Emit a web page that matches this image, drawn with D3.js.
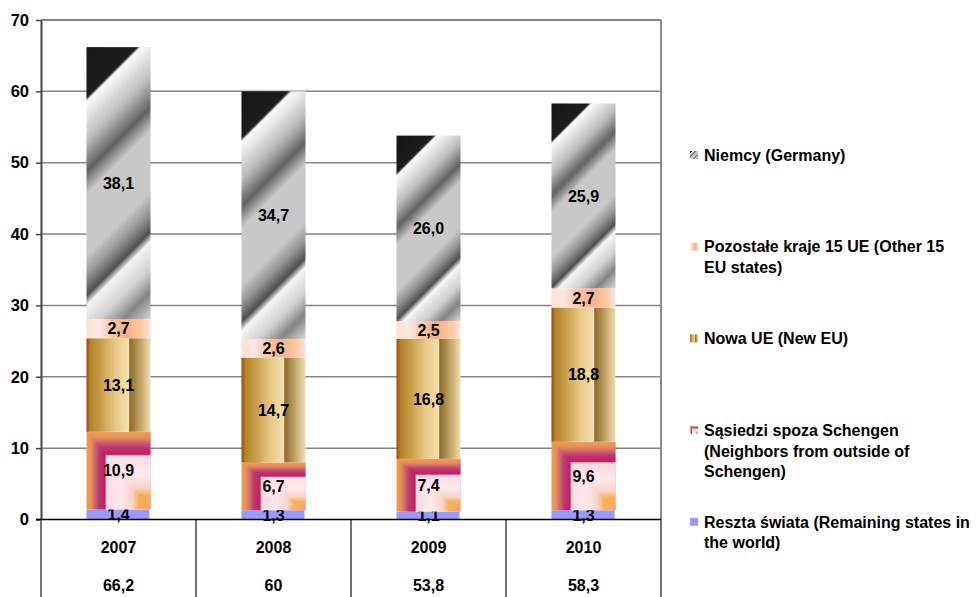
<!DOCTYPE html>
<html>
<head>
<meta charset="utf-8">
<script src="https://cdn.jsdelivr.net/npm/d3@7"></script>
<style>
    body { margin: 0; background: #fff; }
    text { font-family: "Liberation Sans", Arial, sans-serif; font-weight: bold; fill: #000; }
</style>
</head>
<body>
<div id="chart"></div>
<script>

const years = ['2007', '2008', '2009', '2010'];
const totals = ['66,2', '60', '53,8', '58,3'];

const reszta = [1.4, 1.3, 1.1, 1.3];
const sasiedzi = [10.9, 6.7, 7.4, 9.6];
const nowaUE = [13.1, 14.7, 16.8, 18.8];
const pozostale = [2.7, 2.6, 2.5, 2.7];
const niemcy = [38.1, 34.7, 26.0, 25.9];

const yTicks = [0, 10, 20, 30, 40, 50, 60, 70];

// legend goes top -> bottom, stack goes bottom -> top
const legendLines = [
    ['Niemcy (Germany)'],
    ['Pozostałe kraje 15 UE (Other 15', 'EU states)'],
    ['Nowa UE (New EU)'],
    ['Sąsiedzi spoza Schengen', '(Neighbors from outside of', 'Schengen)'],
    ['Reszta świata (Remaining states in', 'the world)']
];

const stackSeries = [
    { key: 'reszta', values: reszta },
    { key: 'sasiedzi', values: sasiedzi },
    { key: 'nowa', values: nowaUE },
    { key: 'pozostale', values: pozostale },
    { key: 'niemcy', values: niemcy }
];

const svgWidth = 976;
const svgHeight = 597;
const plot = { left: 41, right: 661, top: 20, bottom: 519.5 };

const svg = d3.select('#chart')
    .append('svg')
    .attr('width', svgWidth)
    .attr('height', svgHeight);

const defs = svg.append('defs');

const addStops = (grad, stops) => {
    grad.selectAll('stop')
        .data(stops)
        .join('stop')
        .attr('offset', d => d[0])
        .attr('stop-color', d => d[1]);
    return grad;
};

const nowaStops = [
    [0, '#9a480a'], [0.06, '#b4822c'], [0.2, '#c39a42'], [0.45, '#e8c886'],
    [0.66, '#f6e0aa'], [0.675, '#8a6a30'], [0.8, '#b69656'], [1, '#f2dfb4']
];
const pozStops = [
    [0, '#fde2cc'], [0.2, '#fde6e6'], [0.4, '#f9c6a6'], [0.62, '#f5b08e'],
    [0.85, '#fcca9a'], [1, '#fde2ea']
];
const sasStops = [
    [0, '#f0a050'], [0.08, '#e68c5a'], [0.2, '#b83878'], [0.29, '#d01858'],
    [0.31, '#fbdde4'], [0.55, '#fde8ec'], [0.72, '#f9d4c8'], [0.82, '#f8b058'],
    [0.95, '#f8a868'], [1, '#f890a0']
];
const niemcyStops = [
    [0, '#161616'], [0.15, '#1c1c1c'], [0.162, '#f8f8f8'], [0.2, '#e8e8e8'],
    [0.28, '#bcbcbc'], [0.37, '#626262'], [0.44, '#c8c8c8'], [0.62, '#c8c8c8'],
    [0.68, '#969696'], [0.74, '#505050'], [0.77, '#f5f5f5'], [0.85, '#d0d0d0'],
    [0.92, '#858585'], [1, '#d8d8d8']
];

addStops(defs.append('linearGradient').attr('id', 'g-nowa')
    .attr('x1', 0).attr('y1', 0).attr('x2', 1).attr('y2', 0), nowaStops);
addStops(defs.append('linearGradient').attr('id', 'g-poz')
    .attr('x1', 0).attr('y1', 0).attr('x2', 1).attr('y2', 0), pozStops);
addStops(defs.append('linearGradient').attr('id', 'g-sas-h')
    .attr('x1', 0).attr('y1', 0).attr('x2', 1).attr('y2', 0), sasStops);
addStops(defs.append('linearGradient').attr('id', 'g-sas-v')
    .attr('x1', 0).attr('y1', 0).attr('x2', 0).attr('y2', 1), sasStops);
addStops(defs.append('linearGradient').attr('id', 'g-niemcy-legend')
    .attr('x1', 0).attr('y1', 0).attr('x2', 1).attr('y2', 1), niemcyStops);

const xScale = d3.scaleBand()
    .domain(years)
    .range([plot.left, plot.right])
    .padding(0);

const barWidth = xScale.bandwidth() * 0.413;

const yScale = d3.scaleLinear()
    .domain([0, 70])
    .range([plot.bottom, plot.top]);

// gridlines
svg.append('g')
    .selectAll('line')
    .data(yTicks.filter(d => d > 0))
    .join('line')
    .attr('x1', plot.left)
    .attr('x2', plot.right)
    .attr('y1', d => yScale(d))
    .attr('y2', d => yScale(d))
    .attr('stroke', '#858585')
    .attr('stroke-width', 1.5);

// right border of plot
svg.append('line')
    .attr('x1', plot.right).attr('x2', plot.right)
    .attr('y1', plot.top).attr('y2', plot.bottom)
    .attr('stroke', '#8a8a8a')
    .attr('stroke-width', 2);

// stacked data
const rows = years.map((year, i) => {
    const row = { year };
    stackSeries.forEach(s => { row[s.key] = s.values[i]; });
    return row;
});

const stacked = d3.stack().keys(stackSeries.map(s => s.key))(rows);

const fmt = v => d3.format('.1f')(v).replace('.', ',');

const bars = svg.append('g');

stacked.forEach(layer => {
    const key = layer.key;
    layer.forEach((d, i) => {
        const x0 = xScale(d.data.year) + (xScale.bandwidth() - barWidth) / 2;
        const x1 = x0 + barWidth;
        const yTop = yScale(d[1]);
        const yBot = yScale(d[0]);
        const h = yBot - yTop;

        if (key === 'sasiedzi') {
            // rectangular gradient from the lower right corner: two halves
            bars.append('rect')
                .attr('x', x0).attr('y', yTop)
                .attr('width', barWidth).attr('height', h)
                .attr('fill', 'url(#g-sas-h)');
            bars.append('polygon')
                .attr('points', [[x0, yTop], [x1, yTop], [x1, yBot]].join(' '))
                .attr('fill', 'url(#g-sas-v)');
        } else if (key === 'niemcy') {
            const id = `g-niemcy-${i}`;
            const len = (barWidth + h) / 2;
            addStops(defs.append('linearGradient').attr('id', id)
                .attr('gradientUnits', 'userSpaceOnUse')
                .attr('x1', x0).attr('y1', yTop)
                .attr('x2', x0 + len).attr('y2', yTop + len), niemcyStops);
            bars.append('rect')
                .attr('x', x0).attr('y', yTop)
                .attr('width', barWidth).attr('height', h)
                .attr('fill', `url(#${id})`);
        } else {
            const fill = key === 'reszta' ? '#9999ff'
                : key === 'nowa' ? 'url(#g-nowa)' : 'url(#g-poz)';
            bars.append('rect')
                .attr('x', x0).attr('y', yTop)
                .attr('width', key === 'reszta' ? barWidth - 1 : barWidth)
                .attr('height', h)
                .attr('fill', fill);
        }

        bars.append('text')
            .attr('x', x0 + barWidth / 2)
            .attr('y', (yTop + yBot) / 2)
            .attr('dy', '0.36em')
            .attr('text-anchor', 'middle')
            .style('font-size', '16px')
            .text(fmt(d.data[key]));
    });
});

// y axis
const yAxis = svg.append('g')
    .attr('transform', `translate(${plot.left}, 0)`)
    .call(d3.axisLeft(yScale)
        .tickValues(yTicks)
        .tickSize(5)
        .tickSizeOuter(0)
        .tickPadding(7)
        .tickFormat(d => d));

yAxis.select('.domain').attr('stroke', '#444').attr('stroke-width', 2);
yAxis.selectAll('.tick line').attr('stroke', '#444').attr('stroke-width', 1.5);
yAxis.selectAll('.tick text')
    .style('font-size', '16.5px')
    .style('font-family', '"Liberation Sans", Arial, sans-serif')
    .style('font-weight', 'bold')
    .attr('fill', '#000');

// top border (70 line)
svg.append('line')
    .attr('x1', plot.left).attr('x2', plot.right)
    .attr('y1', yScale(70)).attr('y2', yScale(70))
    .attr('stroke', '#858585')
    .attr('stroke-width', 2);

// data table under the chart
const table = svg.append('g');

table.selectAll('line.v')
    .data(years.map(y => xScale(y)).concat([plot.right]))
    .join('line')
    .attr('class', 'v')
    .attr('x1', d => d).attr('x2', d => d)
    .attr('y1', plot.bottom).attr('y2', svgHeight)
    .attr('stroke', (d, i) => i === 0 ? '#777' : '#111')
    .attr('stroke-width', (d, i) => i === 0 ? 2 : 1.2);

table.append('line')
    .attr('x1', plot.left - 5).attr('x2', plot.right)
    .attr('y1', plot.bottom).attr('y2', plot.bottom)
    .attr('stroke', '#000')
    .attr('stroke-width', 1.5);

table.selectAll('text.year')
    .data(years)
    .join('text')
    .attr('class', 'year')
    .attr('x', d => xScale(d) + xScale.bandwidth() / 2)
    .attr('y', 553)
    .attr('text-anchor', 'middle')
    .style('font-size', '16px')
    .text(d => d);

table.selectAll('text.total')
    .data(totals)
    .join('text')
    .attr('class', 'total')
    .attr('x', (d, i) => xScale(years[i]) + xScale.bandwidth() / 2)
    .attr('y', 591)
    .attr('text-anchor', 'middle')
    .style('font-size', '16px')
    .text(d => d);

// legend
const legendKeys = ['niemcy', 'pozostale', 'nowa', 'sasiedzi', 'reszta'];
const legend = svg.append('g').attr('transform', 'translate(690, 155)');

legendLines.forEach((lines, i) => {
    const g = legend.append('g').attr('transform', `translate(0, ${i * 91.7})`);
    const key = legendKeys[i];
    const m = 8;
    if (key === 'sasiedzi') {
        g.append('rect').attr('x', 0).attr('y', -4).attr('width', m).attr('height', m).attr('fill', 'url(#g-sas-h)');
        g.append('polygon').attr('points', [[0, -4], [m, -4], [m, 4]].join(' ')).attr('fill', 'url(#g-sas-v)');
    } else {
        g.append('rect')
            .attr('x', 0).attr('y', -4)
            .attr('width', m).attr('height', m)
            .attr('fill', key === 'niemcy' ? 'url(#g-niemcy-legend)'
                : key === 'pozostale' ? 'url(#g-poz)'
                : key === 'nowa' ? 'url(#g-nowa)' : '#9999ff');
    }
    g.selectAll('text')
        .data(lines)
        .join('text')
        .attr('x', 14)
        .attr('y', (d, j) => j * 20.7)
        .attr('dy', '0.36em')
        .style('font-size', '16px')
        .text(d => d);
});

</script>
</body>
</html>
